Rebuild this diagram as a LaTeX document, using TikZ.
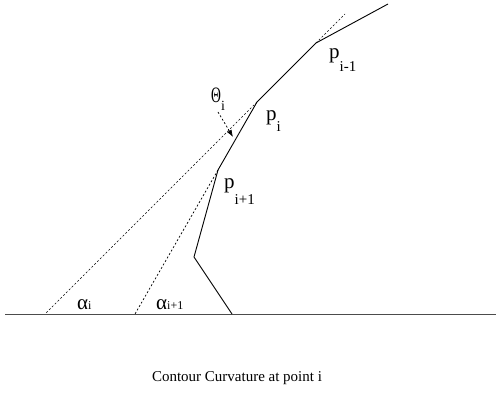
\documentclass[tikz,border=0pt]{standalone}
\usepackage{fontspec}
\setmainfont{Liberation Serif}
\usetikzlibrary{arrows.meta,positioning,calc}

\newcommand{\vlab}[3]{{\fontsize{21}{21}\selectfont #1}\raisebox{-#3pt}{\fontsize{15}{15}\selectfont #2}}
\newcommand{\alab}[1]{{\fontsize{21}{21}\selectfont α}{\fontsize{12}{12}\selectfont #1}}

\begin{document}
\begin{tikzpicture}[x=1pt,y=-1pt,>={Latex[length=7pt,width=5pt]},
  contour/.style={line width=0.9pt},
  ground/.style={line width=0.9pt,black!70},
  ext/.style={line width=0.7pt,dash pattern=on 2pt off 2pt},
  lab/.style={inner sep=0pt,anchor=base west}]
  \useasboundingbox (0,0) rectangle (496,393);
  % contour points
  \coordinate (top) at (388,4);
  \coordinate (pim) at (316,43);
  \coordinate (pi) at (257,102);
  \coordinate (pip) at (218,170);
  \coordinate (knee) at (194,257);
  \coordinate (foot) at (232,314);
  \coordinate (gl) at (5,314);
  \coordinate (gr) at (496,314);
  % ends of the extensions
  \coordinate (pimx) at (345,14);
  \coordinate (ai) at (45,314);
  \coordinate (aip) at (135,314);
  \draw[ground] (gl)--(gr);
  \draw[contour] (top)--(pim)--(pi)--(pip)--(knee)--(foot);
  \draw[ext] (pim)--(pimx);
  \draw[ext] (pi)--(ai);
  \draw[ext] (pip)--(aip);
  % labels
  \node[lab] (lpim) at (329,59) {\vlab{p}{i-1}{13}};
  \node[lab] (lpi) at (266,121) {\vlab{p}{i}{11}};
  \node[lab] (lpip) at (224,189) {\vlab{p}{i+1}{16}};
  \node[lab] (ltheta) at (211,103) {\fontsize{22}{22}\selectfont\scalebox{0.62}[1]{Θ}\raisebox{-8pt}{\fontsize{14}{14}\selectfont i}};
  \coordinate (tail) at (218,112);
  \coordinate (tip) at (233,137);
  \draw[ext,->] (tail)--(tip);
  \node[lab] (lai) at (77,309) {\alab{i}};
  \node[lab] (laip) at (156,309) {\alab{i+1}};
  \node[anchor=base] (cap) at (237,381) {\fontsize{15}{15}\selectfont Contour Curvature at point i};
\end{tikzpicture}
\end{document}
